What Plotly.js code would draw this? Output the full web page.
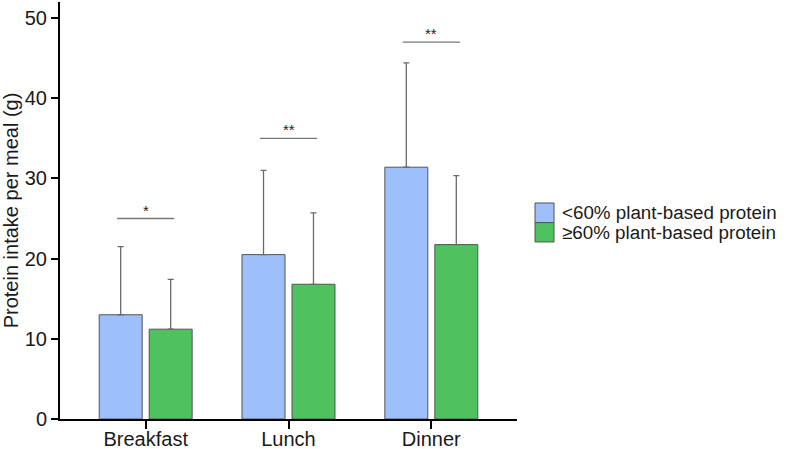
<!DOCTYPE html>
<html><head><meta charset="utf-8">
<script src="https://cdn.plot.ly/plotly-3.0.1.min.js"></script>
<style>html,body{margin:0;padding:0;background:#fff}#chart{width:790px;height:449px}</style>
</head><body><div id="chart"></div>
<script>
const categories = ['Breakfast', 'Lunch', 'Dinner'];
const seriesNames = ['<60% plant-based protein', '≥60% plant-based protein'];
const meanLow = [13.0, 20.5, 31.4];
const sdLow = [8.5, 10.5, 13.0];
const meanHigh = [11.2, 16.8, 21.75];
const sdHigh = [6.2, 8.9, 8.6];
const sigY = [25, 35, 47];
const sigLabels = ['*', '**', '**'];
const yTicks = [0, 10, 20, 30, 40, 50];

const colors = ['#9DBFFC', '#4FC15E'];
const fontFam = 'Liberation Sans, Arial, sans-serif';

function barTrace(name, y, sd, color) {
  return {
    type: 'bar', name: name, x: categories, y: y,
    marker: {color: color, line: {color: '#555555', width: 1}},
    error_y: {type: 'data', symmetric: false, array: sd, arrayminus: sd.map(() => 0),
              color: '#6a6a6a', thickness: 1.3, width: 3},
    showlegend: false, hoverinfo: 'skip'
  };
}

const data = [
  barTrace(seriesNames[0], meanLow, sdLow, colors[0]),
  barTrace(seriesNames[1], meanHigh, sdHigh, colors[1])
];

const shapes = [];
const annotations = [];
categories.forEach((c, i) => {
  shapes.push({type: 'line', xref: 'x', yref: 'y', x0: i - 0.2, x1: i + 0.2, y0: sigY[i], y1: sigY[i],
               line: {color: '#777777', width: 1.3}});
  annotations.push({xref: 'x', yref: 'y', x: i, y: sigY[i], text: sigLabels[i], showarrow: false,
                    yanchor: 'bottom', yshift: -2, font: {size: 15, color: '#222222', family: fontFam}});
});

// custom legend
const legY = [[0.518, 0.471], [0.471, 0.4245]];
seriesNames.forEach((n, k) => {
  shapes.push({type: 'rect', xref: 'paper', yref: 'paper', x0: 1.0394, x1: 1.081,
               y0: legY[k][1], y1: legY[k][0], fillcolor: colors[k], line: {color: '#555555', width: 1}});
  annotations.push({xref: 'paper', yref: 'paper', x: 1.095, y: (legY[k][0] + legY[k][1]) / 2,
                    xanchor: 'left', yanchor: 'middle', text: n, showarrow: false,
                    font: {size: 18.8, color: '#1a1a1a', family: fontFam}});
});

const layout = {
  width: 790, height: 449,
  margin: {l: 60, r: 273, t: 2, b: 30},
  paper_bgcolor: '#ffffff', plot_bgcolor: '#ffffff',
  font: {family: fontFam, color: '#1a1a1a'},
  barmode: 'group', bargap: 0.3, bargroupgap: 0.14,
  xaxis: {
    type: 'category', range: [-0.6, 2.6], showgrid: false, zeroline: false,
    showline: true, linecolor: '#000', linewidth: 2,
    ticks: 'outside', ticklen: 8, tickwidth: 2, tickcolor: '#000',
    ticklabelstandoff: -7,
    tickfont: {size: 20, color: '#1a1a1a'}
  },
  yaxis: {
    range: [0, 52], tickvals: yTicks, showgrid: false, zeroline: false,
    showline: true, linecolor: '#000', linewidth: 2,
    ticks: 'outside', ticklen: 7, tickwidth: 2, tickcolor: '#000',
    tickfont: {size: 20, color: '#1a1a1a'},
    title: {text: 'Protein intake per meal (g)', font: {size: 20, color: '#1a1a1a'}, standoff: 4}
  },
  shapes: shapes, annotations: annotations
};

Plotly.newPlot('chart', data, layout, {displayModeBar: false, staticPlot: true});
</script></body></html>
